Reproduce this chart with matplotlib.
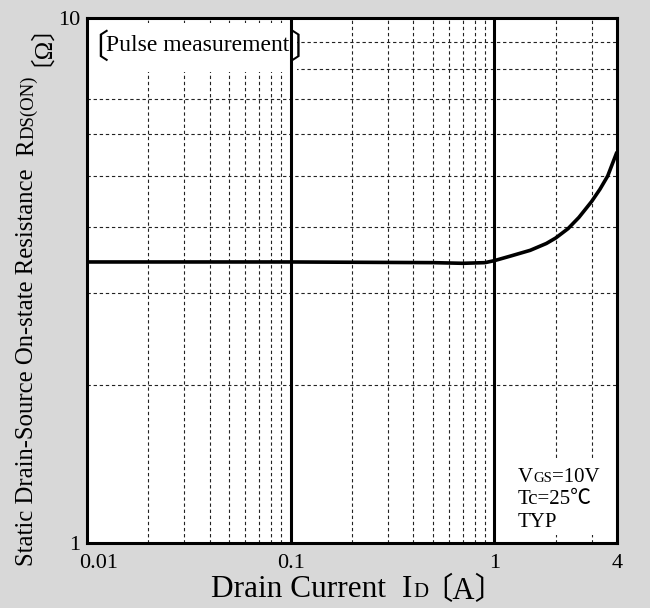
import numpy as np
import matplotlib
matplotlib.use("Agg")
import matplotlib.pyplot as plt
from matplotlib.patches import Rectangle
from matplotlib.ticker import LogLocator, NullFormatter
from matplotlib.transforms import IdentityTransform, ScaledTranslation

FAM = ["Liberation Serif", "Noto Sans CJK JP"]
plt.rcParams["font.family"] = FAM

# data
drain_current = [0.01, 0.1, 0.5, 0.7, 0.9, 1.0, 1.2, 1.5, 1.8, 2.0, 2.3, 2.6, 3.0, 3.3, 3.6, 4.0]
resistance = [3.43, 3.43, 3.42, 3.41, 3.42, 3.45, 3.52, 3.61, 3.72, 3.81, 3.97, 4.17, 4.47, 4.72, 5.0, 5.56]

x_ticks = [0.01, 0.1, 1, 4]
x_tick_labels = ["0.01", "0.1", "1", "4"]
y_ticks = [1, 10]
y_tick_labels = ["1", "10"]
solid_lines = [0.1, 1]

fig = plt.figure(figsize=(6.5, 6.08), dpi=100, facecolor="#d8d8d8")
ax = fig.add_axes([87 / 650, 65 / 608, 530 / 650, 525 / 608])
ax.set_xscale("log")
ax.set_yscale("log")
ax.set_xlim(0.01, 4)
ax.set_ylim(1, 10)

ax.set_xticks(x_ticks)
ax.set_xticklabels(x_tick_labels)
ax.set_yticks(y_ticks)
ax.set_yticklabels(y_tick_labels)
for a in (ax.xaxis, ax.yaxis):
    a.set_minor_locator(LogLocator(base=10, subs=np.arange(2, 10), numticks=50))
    a.set_minor_formatter(NullFormatter())
ax.tick_params(which="both", length=0, labelsize=16)
ax.tick_params(axis="x", pad=8)
ax.tick_params(axis="y", pad=5)
# first x label sits a bit right of its tick
lab0 = ax.get_xticklabels()[0]
lab0.set_transform(lab0.get_transform() + ScaledTranslation(0.12, 0, fig.dpi_scale_trans))

ax.grid(which="minor", color="#222222", lw=0.8, ls=(0, (3, 2.5)))
for v in solid_lines:
    ax.axvline(v, color="black", lw=2.2, zorder=2.2)
ax.plot(drain_current, resistance, color="black", lw=2.6, zorder=3, solid_capstyle="butt")
for s in ax.spines.values():
    s.set_linewidth(2.2)
    s.set_zorder(4)

# white patches behind the two notes
ax.add_patch(Rectangle((0, 0.897), 0.396, 0.093, transform=ax.transAxes,
                       facecolor="white", edgecolor="none", zorder=2.1))
ax.add_patch(Rectangle((0.797, 0.015), 0.173, 0.147, transform=ax.transAxes,
                       facecolor="white", edgecolor="none", zorder=2.1))


def chain(parts, x, y, rot=0, align="center"):
    """parts: (text, size, gap after px, shift px); pixel coords"""
    texts = []
    for s, size, gap, dy in parts:
        t = fig.text(0, 0, s, fontsize=size, rotation=rot, rotation_mode="anchor",
                     ha="left", va="baseline", transform=IdentityTransform(), zorder=5)
        texts.append((t, gap, dy))
    fig.canvas.draw()
    r = fig.canvas.get_renderer()
    lens = []
    for t, gap, dy in texts:
        bb = t.get_window_extent(r)
        lens.append((bb.height if rot else bb.width) + gap)
    pos = -sum(lens) / 2 if align == "center" else 0
    for (t, gap, dy), L in zip(texts, lens):
        t.set_position((x - dy, y + pos) if rot else (x + pos, y + dy))
        pos += L
    return [t for t, g, d in texts]


chain([("Drain Current", 22.5, 16, 0), ("I", 22.5, 1, 0), ("D", 15, -6, 0),
       ("〔A〕", 22, 0, -2)], 358, 11)
chain([("Static Drain-Source On-state Resistance", 17.8, 13, 0), ("R", 17.8, 0, 0),
       ("DS(ON)", 13.5, 10, 0), ("〔Ω〕", 17.8, 0, -2)], 33, 326, rot=90)

chain([("〔", 24, -2, -7), ("Pulse measurement", 17, 0, 0), ("〕", 24, 0, -7)],
      75, 608 - 51, align="left")

# condition note, each line on its own
note = [[("V", 15, 0, 0), ("GS", 10.5, 0, 0), ("=10V", 15, 0, 0)],
        [("Tc=25℃", 15, 0, 0)],
        [("TYP", 15, 0, 0)]]
for i, line in enumerate(note):
    chain(line, 518, 608 - 482 - 22.5 * i, align="left")

fig.savefig("out.png", dpi=100, facecolor=fig.get_facecolor())
